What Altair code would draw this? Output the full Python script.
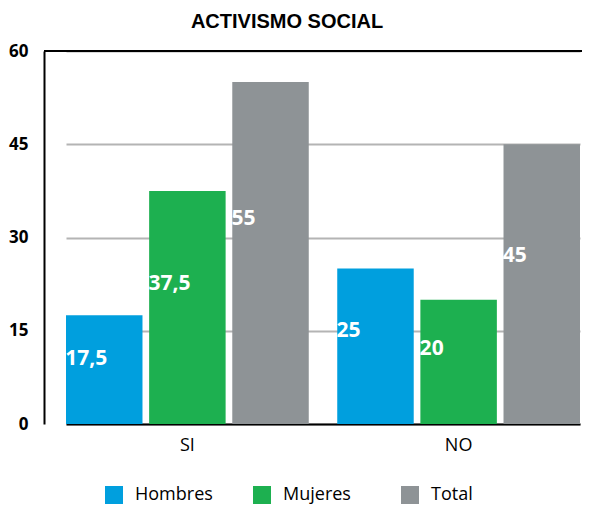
import altair as alt
import pandas as pd

categories = ["SI", "NO"]
series = ["Hombres", "Mujeres", "Total"]
hombres = [17.5, 25]
mujeres = [37.5, 20]
total = [55, 45]
y_ticks = [0, 15, 30, 45, 60]
colors = ["#009FDE", "#1DB050", "#8E9396"]

rows = []
for i, c in enumerate(categories):
    for s, vals in zip(series, [hombres, mujeres, total]):
        rows.append({"resp": c, "grupo": s, "value": vals[i]})
df = pd.DataFrame(rows)

FONT = "Open Sans"

x_enc = alt.X("resp:N", sort=categories,
              scale=alt.Scale(range=[22, 536], paddingInner=0.105, paddingOuter=0),
              axis=alt.Axis(title=None, labelAngle=0, labelFontSize=18, labelFont=FONT,
                            labelColor="black", ticks=False, domainColor="black",
                            domainWidth=2, labelPadding=12))
xoff = alt.XOffset("grupo:N", sort=series, scale=alt.Scale(paddingInner=0.08, paddingOuter=0))
y_scale = alt.Scale(domain=[0, 60], nice=False)

bars = alt.Chart(df).mark_bar().encode(
    x=x_enc,
    xOffset=xoff,
    y=alt.Y("value:Q", scale=y_scale,
            axis=alt.Axis(title=None, values=y_ticks, labelFontSize=17, labelFont=FONT,
                          labelFontWeight="bold", labelColor="black", ticks=False,
                          domainColor="black", domainWidth=2, gridColor="#B4B4B4",
                          gridWidth=2, labelPadding=16)),
    color=alt.Color("grupo:N", sort=series,
                    scale=alt.Scale(domain=series, range=colors),
                    legend=alt.Legend(title=None, orient="none", legendX=61, legendY=435,
                                      direction="horizontal",
                                      columns=3, gridAlign="all", columnPadding=40,
                                      symbolType="square", symbolSize=324,
                                      symbolStrokeWidth=0, labelFontSize=18,
                                      labelFont=FONT, labelColor="black",
                                      labelOffset=12, padding=0)),
)

labels = alt.Chart(df).transform_calculate(
    ly="datum.value * 0.6",
    txt="replace(toString(datum.value), '.', ',')",
).mark_text(align="left", baseline="middle", dx=-39, color="white",
            fontWeight="bold", fontSize=21, font=FONT).encode(
    x=alt.X("resp:N", sort=categories),
    xOffset=alt.XOffset("grupo:N", sort=series),
    y=alt.Y("ly:Q", scale=y_scale),
    text="txt:N",
)

top_rule = alt.Chart(pd.DataFrame({"v": [60]})).mark_rule(color="black", strokeWidth=2).encode(
    y=alt.Y("v:Q", scale=y_scale)
)

chart = alt.layer(bars, labels, top_rule).properties(
    width=538, height=373,
    title=alt.Title("ACTIVISMO SOCIAL", font="Liberation Sans", fontSize=20,
                    fontWeight="bold", color="black", anchor="middle", offset=10, dx=-26),
    padding={"left": 0, "top": 4, "right": 0, "bottom": 0},
).configure_view(stroke=None)

chart.save("out.html", embed_options={"renderer": "svg", "actions": False})
